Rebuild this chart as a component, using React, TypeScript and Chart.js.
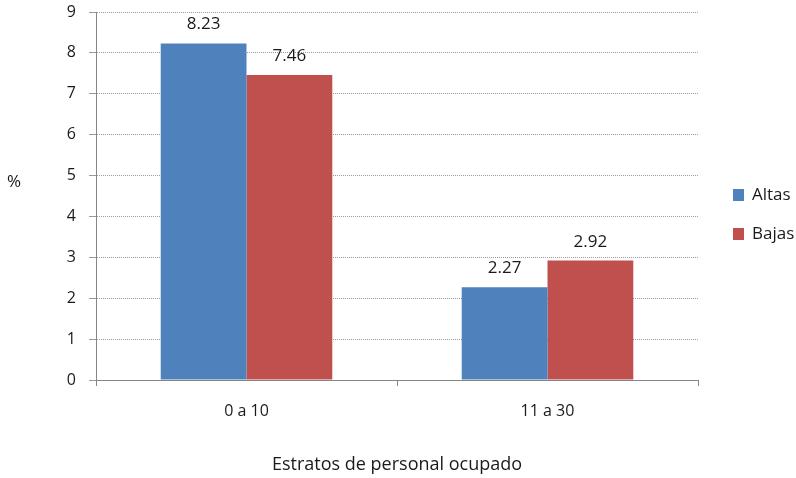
import React, { useEffect, useRef } from "react";
import { Chart, registerables } from "chart.js";

Chart.register(...registerables);

const categories = ["0 a 10", "11 a 30"];
const altas = [8.23, 2.27];
const bajas = [7.46, 2.92];
const seriesNames = ["Altas", "Bajas"];
const yTitle = "%";
const xTitle = "Estratos de personal ocupado";

const FONT = "'Open Sans', sans-serif";
const BLUE = "#4F81BD";
const RED = "#C0504D";
const TEXT = "#1a1a1a";

const textPlugin = {
  id: "textPlugin",
  afterDatasetsDraw(chart: any) {
    const ctx = chart.ctx;
    ctx.save();
    ctx.fillStyle = TEXT;
    ctx.font = `17px ${FONT}`;
    ctx.textAlign = "center";
    ctx.textBaseline = "alphabetic";
    chart.data.datasets.forEach((ds: any, di: number) => {
      const meta = chart.getDatasetMeta(di);
      meta.data.forEach((bar: any, i: number) => {
        ctx.fillText(ds.data[i].toFixed(2), bar.x, bar.y - 14);
      });
    });
    // y title
    ctx.font = `17px ${FONT}`;
    ctx.textBaseline = "middle";
    ctx.fillText(yTitle, 14, 182);
    // x title
    ctx.font = `18px ${FONT}`;
    const area = chart.chartArea;
    ctx.fillText(xTitle, (area.left + area.right) / 2, 465);
    // legend
    ctx.font = `17px ${FONT}`;
    ctx.textAlign = "left";
    chart.data.datasets.forEach((ds: any, di: number) => {
      const y = 195 + di * 39;
      ctx.fillStyle = ds.backgroundColor;
      ctx.fillRect(733, y - 6, 11, 12);
      ctx.fillStyle = TEXT;
      ctx.fillText(ds.label, 752, y);
    });
    ctx.restore();
  },
};

export default function App() {
  const ref = useRef<HTMLCanvasElement>(null);
  useEffect(() => {
    document.body.style.margin = "0";
    const chart = new Chart(ref.current!, {
      type: "bar",
      data: {
        labels: categories,
        datasets: [
          { label: seriesNames[0], data: altas, backgroundColor: BLUE },
          { label: seriesNames[1], data: bajas, backgroundColor: RED },
        ],
      },
      options: {
        responsive: false,
        animation: false,
        devicePixelRatio: 1,
        layout: { padding: { top: 12, right: 98, left: 0, bottom: 0 } },
        datasets: { bar: { categoryPercentage: 0.57, barPercentage: 1 } },
        plugins: { legend: { display: false }, tooltip: { enabled: false } },
        scales: {
          x: {
            grid: {
              drawOnChartArea: false,
              drawTicks: true,
              tickLength: 6,
              color: "#868686",
            },
            border: { color: "#868686", width: 1 },
            ticks: { color: TEXT, font: { family: FONT, size: 16 }, padding: 16 },
            afterFit: (s: any) => {
              s.height = 98;
              s.paddingLeft = 0;
              s.paddingRight = 0;
            },
          },
          y: {
            min: 0,
            max: 9,
            ticks: { stepSize: 1, color: TEXT, font: { family: FONT, size: 16 }, padding: 13 },
            grid: { color: "#9a9a9a", tickLength: 7, lineWidth: 1 },
            border: { color: "#868686", width: 1, dash: [1, 1] },
            afterFit: (s: any) => {
              s.width = 96;
              s.paddingTop = 0;
              s.paddingBottom = 0;
            },
          },
        },
      },
      plugins: [textPlugin],
    });
    return () => chart.destroy();
  }, []);
  return (
    <div style={{ position: "absolute", left: 0, top: 0, width: 796, height: 478, background: "#fff" }}>
      <canvas ref={ref} width={796} height={478} />
    </div>
  );
}
